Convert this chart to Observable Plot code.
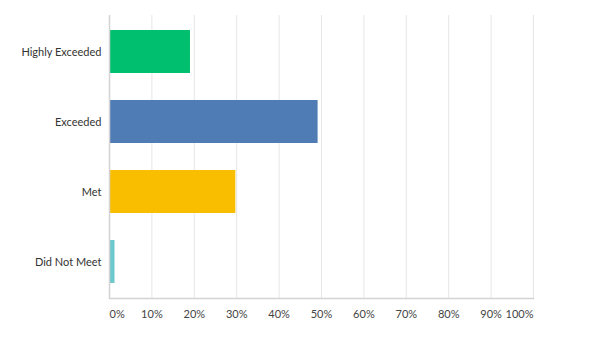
<!DOCTYPE html>
<html>
<head>
<meta charset="utf-8">
<script src="https://cdn.jsdelivr.net/npm/d3@7"></script>
<script src="https://cdn.jsdelivr.net/npm/@observablehq/plot@0.6"></script>
<style>
  html, body { margin: 0; padding: 0; background: #fff; }
  svg { display: block; }
</style>
</head>
<body>
<div id="chart"></div>
<script>
const categories = ["Highly Exceeded", "Exceeded", "Met", "Did Not Meet"];
const values = [19.1, 49.2, 29.8, 1.3];
const colors = ["#00BF6F", "#507CB6", "#F9BE00", "#6BC8CD"];
const xTicks = [0, 10, 20, 30, 40, 50, 60, 70, 80, 90, 100];

const data = categories.map((c, i) => ({category: c, value: values[i], color: colors[i]}));
const fontFamily = "Lato, 'Open Sans', sans-serif";

const chart = Plot.plot({
  width: 589,
  height: 342,
  marginLeft: 109,
  marginRight: 56,
  marginTop: 15,
  marginBottom: 44,
  style: {fontFamily, fontSize: "11px", color: "#333", background: "#fff"},
  x: {domain: [0, 100]},
  y: {domain: categories, paddingInner: 0.38, paddingOuter: 0.19},
  marks: [
    Plot.gridX(xTicks.slice(1), {stroke: "#e6e6e6", strokeOpacity: 1, strokeWidth: 1}),
    Plot.barX(data, {x: "value", y: "category", fill: "color"}),
    Plot.frame({anchor: "bottom", stroke: "#d3d3d3", strokeWidth: 1.5}),
    Plot.ruleX([0], {stroke: "#d3d3d3", strokeWidth: 1.5}),
    Plot.axisY({tickSize: 0, tickPadding: 8, label: null, fill: "#333", fontSize: 11}),
    Plot.axisX({ticks: xTicks.slice(1, -1), tickSize: 0, tickPadding: 12, tickFormat: d => d + "%", label: null, fill: "#444", fontSize: 11}),
    Plot.axisX({ticks: [0], tickSize: 0, tickPadding: 12, tickFormat: d => d + "%", label: null, textAnchor: "start", fill: "#444", fontSize: 11}),
    Plot.axisX({ticks: [100], tickSize: 0, tickPadding: 12, tickFormat: d => d + "%", label: null, textAnchor: "end", fill: "#444", fontSize: 11})
  ]
});
document.getElementById("chart").appendChild(chart);
</script>
</body>
</html>
